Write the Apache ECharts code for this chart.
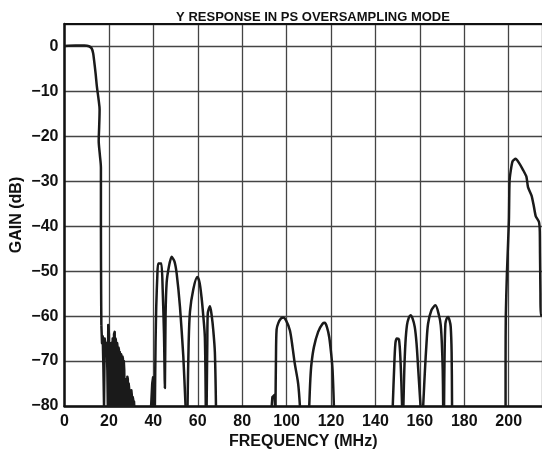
<!DOCTYPE html>
<html>
<head>
<meta charset="utf-8">
<script src="https://cdn.jsdelivr.net/npm/echarts@6/dist/echarts.min.js"></script>
<style>html,body{margin:0;padding:0;background:#fff}#c{width:542px;height:453px}</style>
</head>
<body>
<div id="c"></div>
<script>
var titleText = 'Y RESPONSE IN PS OVERSAMPLING MODE';
var xName = 'FREQUENCY (MHz)';
var yName = 'GAIN (dB)';
var xTicks = [0, 20, 40, 60, 80, 100, 120, 140, 160, 180, 200];
var yTicks = [0, -10, -20, -30, -40, -50, -60, -70, -80];

var passband = [[0,0.1],[5,0.2],[9,0.2],[11,0.05],[12.2,-0.4],[12.9,-1.5],[13.3,-3],[14,-6],[14.6,-9],[15.4,-12],[15.8,-14],[15.6,-18],[15.4,-21],[15.9,-24],[16.4,-27],[16.4,-40],[16.5,-55],[16.6,-62]];
var aliasNoise = [[16.6,-62],[16.9,-66],[17.2,-64.5],[17.5,-71],[17.8,-80],[18.1,-65],[18.5,-67],[19.0,-66],[19.3,-72],[19.5,-80],[19.7,-62],[20.0,-64],[20.2,-80],[20.4,-66],[20.7,-70],[20.9,-80],[21.1,-66],[21.3,-68],[21.5,-80],[21.7,-65],[21.9,-66],[22.1,-80],[22.3,-64],[22.6,-63.5],[22.8,-80],[23.0,-65],[23.3,-66],[23.5,-80],[23.7,-66],[23.9,-67],[24.1,-80],[24.3,-67],[24.5,-67.5],[24.7,-80],[24.9,-68],[25.1,-68],[25.3,-80],[25.5,-68.5],[25.7,-69],[25.9,-80],[26.1,-69],[26.3,-69.5],[26.5,-80],[26.7,-70],[26.9,-72],[27.1,-80],[27.3,-74],[27.5,-75],[27.7,-80],[27.9,-75],[28.1,-80],[28.3,-73.5],[28.5,-74],[28.7,-80],[28.9,-75],[29.1,-76],[29.3,-80],[29.5,-76.5],[29.7,-77],[29.9,-80],[30.1,-76.5],[30.3,-77.5],[30.5,-80],[30.7,-78],[30.9,-78.5],[31.1,-80],[31.3,-79],[31.4,-80]];
var spike40 = [[39.0,-80],[39.5,-75],[39.9,-73.6],[40.0,-80]];
var lobes45 = [[40.7,-80],[41.0,-66],[41.3,-58],[41.8,-51],[42.2,-48.3],[43.6,-48.3],[44.2,-54],[44.8,-64],[45.2,-76],[45.5,-60],[46.0,-52.5],[47.0,-49],[48.2,-46.8],[49.5,-47.8],[50.5,-50.5],[52.0,-58],[53.5,-69],[54.5,-80]];
var lobe60 = [[55.4,-80],[55.9,-66],[56.5,-59],[58.0,-54],[59.8,-51.3],[60.8,-52.5],[61.7,-55.8],[62.5,-60],[63.2,-64.7],[63.6,-80]];
var lobe65 = [[64.0,-80],[64.3,-66],[64.5,-59.5],[65.5,-57.8],[66.3,-60],[67.0,-63.2],[67.7,-68],[68.2,-80]];
var blob94 = [[93.3,-80],[93.6,-78],[94.6,-77.5],[94.8,-80]];
var lobe98 = [[95.0,-80],[95.2,-70],[95.5,-63],[96.3,-61.5],[97.5,-60.5],[98.5,-60.3],[99.8,-61],[101.5,-63.2],[102.7,-67],[103.7,-70.6],[105.2,-75],[106,-80]];
var lobe117 = [[110.2,-80],[110.7,-74],[111.2,-70.6],[112.3,-66.9],[114.2,-63.5],[116.2,-61.7],[117.2,-61.5],[118.2,-62.5],[119.2,-64.7],[120.2,-69],[120.7,-72],[121.3,-80]];
var lobe150 = [[147.8,-80],[148.4,-72],[149.0,-66],[149.7,-65],[150.6,-65.2],[151.3,-70],[152.0,-80]];
var lobe156 = [[152.6,-80],[153.0,-72],[153.5,-66],[154.2,-62],[155.0,-60.4],[155.8,-59.8],[156.7,-60.5],[157.7,-62.4],[158.5,-66],[159.2,-71.3],[160.3,-80]];
var lobe167 = [[161.5,-80],[162.3,-72],[163.0,-66],[163.7,-61.7],[165.2,-58.7],[167.0,-57.6],[168.6,-59.8],[169.4,-62],[169.9,-66],[170.3,-72],[170.5,-80]];
var lobe173 = [[170.9,-80],[171.1,-70],[171.5,-61.7],[172.1,-60.5],[172.7,-60.2],[173.4,-61],[173.9,-62.4],[174.3,-68],[174.5,-80]];
var image203 = [[198.6,-80],[198.6,-70],[198.7,-59.8],[199.2,-50.6],[200.1,-38.7],[200.4,-29.8],[201.2,-26.8],[201.8,-25.5],[203.1,-25],[204.5,-25.8],[206.5,-27.5],[208,-29],[208.7,-31.3],[210.3,-33.2],[211.3,-35.5],[212.2,-37.8],[213.6,-39],[214,-41],[214.1,-46],[214.3,-55],[214.4,-59.8],[215,-59.8]];

var segs = [
  {d: passband, s: 0.3},
  {d: aliasNoise, s: 0},
  {d: spike40, s: 0},
  {d: lobes45, s: 0.2},
  {d: lobe60, s: 0.3},
  {d: lobe65, s: 0.3},
  {d: blob94, s: 0},
  {d: lobe98, s: 0.3},
  {d: lobe117, s: 0.3},
  {d: lobe150, s: 0.3},
  {d: lobe156, s: 0.3},
  {d: lobe167, s: 0.3},
  {d: lobe173, s: 0.3},
  {d: image203, s: 0.2}
];

var FONT = '"Liberation Sans", Arial, Helvetica, sans-serif';
var chart = echarts.init(document.getElementById('c'), null, {renderer: 'canvas'});
chart.setOption({
  animation: false,
  backgroundColor: '#fff',
  title: {
    text: titleText, left: 308, top: 6, textAlign: 'center',
    textStyle: {fontFamily: FONT, fontWeight: 'bold', fontSize: 13, color: '#111'}
  },
  grid: {left: 64.5, right: 0, top: 24, bottom: 47, containLabel: false, outerBoundsMode: 'none'},
  xAxis: [{
    type: 'value', min: 0, max: 215, interval: 20,
    name: xName, nameLocation: 'middle', nameGap: 28, nameMoveOverlap: false,
    nameTextStyle: {fontFamily: FONT, fontWeight: 'bold', fontSize: 16, color: '#111'},
    axisLine: {show: true, onZero: false, lineStyle: {color: '#111', width: 2.5}},
    axisTick: {show: false},
    axisLabel: {fontFamily: FONT, fontWeight: 'bold', fontSize: 16, color: '#111', margin: 8,
      formatter: function (v) { return xTicks.indexOf(v) >= 0 ? String(v) : ''; }},
    splitLine: {show: true, lineStyle: {color: '#444', width: 1.3}}
  }, {
    type: 'value', min: 0, max: 215, position: 'top',
    axisLine: {show: true, onZero: false, lineStyle: {color: '#111', width: 2.2}},
    axisTick: {show: false}, axisLabel: {show: false}, splitLine: {show: false}
  }],
  yAxis: {
    type: 'value', min: -80, max: 5, interval: 10,
    name: yName, nameLocation: 'middle', nameGap: 40, nameMoveOverlap: false,
    nameTextStyle: {fontFamily: FONT, fontWeight: 'bold', fontSize: 16, color: '#111'},
    axisLine: {show: true, onZero: false, lineStyle: {color: '#111', width: 2.5}},
    axisTick: {show: false},
    axisLabel: {fontFamily: FONT, fontWeight: 'bold', fontSize: 16, color: '#111', margin: 6,
      formatter: function (v) { return yTicks.indexOf(v) >= 0 ? String(v).replace('-', '\u2212') : ''; }},
    splitLine: {show: true, lineStyle: {color: '#444', width: 1.3}}
  },
  series: segs.map(function (g) {
    return {type: 'line', xAxisIndex: 0, data: g.d, smooth: g.s, showSymbol: false, symbol: 'none',
      lineStyle: {color: '#1a1a1a', width: 2.5, join: 'round'}, clip: true};
  })
});
</script>
</body>
</html>
